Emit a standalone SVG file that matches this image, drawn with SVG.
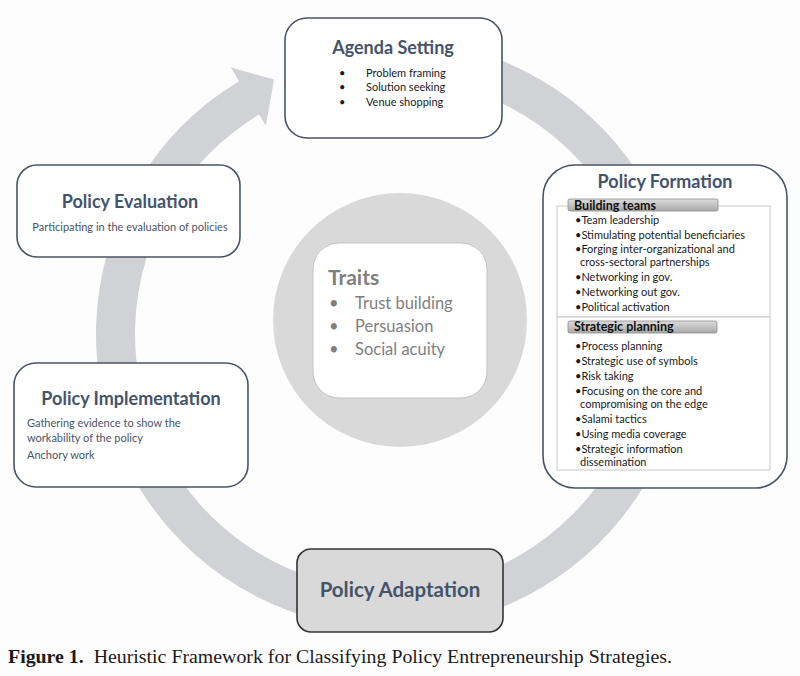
<svg xmlns="http://www.w3.org/2000/svg" width="800" height="676" viewBox="0 0 800 676">
<defs>
<style>
.box{fill:#fff;stroke:#4a5366;stroke-width:1.6}
.ttl{font-family:Lato,"Open Sans",sans-serif;font-weight:bold;fill:#44546a;text-anchor:middle}
.sub{font-family:Lato,"Open Sans",sans-serif;font-size:11px;fill:#4a5568}
.itm{font-family:Lato,"Open Sans",sans-serif;font-size:11px;fill:#1a1a1a}
.hdr{font-family:Lato,"Open Sans",sans-serif;font-size:12.5px;font-weight:bold;fill:#111}
.bar{fill:url(#barg);stroke:#8c8c8c;stroke-width:0.8}
.pan{fill:#fff;stroke:#c8c8c8;stroke-width:1}
.tr{font-family:Lato,"Open Sans",sans-serif;fill:#7f7f7f}
</style>
<linearGradient id="barg" x1="0" y1="0" x2="0" y2="1">
<stop offset="0" stop-color="#dcdcdc"/>
<stop offset="1" stop-color="#a9a9a9"/>
</linearGradient>
</defs>
<rect width="800" height="676" fill="#fdfdfd"/>
<g id="connectors">
<path d="M314.65,49.05 A295,295 0 1,1 239.07,81.13 L230.83,67.41 L274.0,79.6 L265.85,125.70 L259.16,114.56 A256,256 0 1,0 324.74,86.72 Z" fill="#d1d2d6"/>
</g>
<g id="traits">
<circle cx="400" cy="320" r="127" fill="#d9d9d9"/>
<rect x="313" y="243" width="174" height="155" rx="26" fill="#fff" stroke="#c4c4c4" stroke-width="1"/>
<text class="tr" x="328" y="285" font-size="21" font-weight="bold">Traits</text>
<g class="tr" font-size="16.5">
<text x="329" y="309">•</text><text x="355" y="309">Trust building</text>
<text x="329" y="332">•</text><text x="355" y="332">Persuasion</text>
<text x="329" y="355">•</text><text x="355" y="355">Social acuity</text>
</g>
</g>
<g id="agenda-setting">
<rect class="box" x="285" y="18" width="217" height="120" rx="22"/>
<text class="ttl" x="393" y="54" font-size="18">Agenda Setting</text>
<g class="itm" font-size="11.5">
<text x="339" y="77">•</text><text x="366" y="77">Problem framing</text>
<text x="339" y="91">•</text><text x="366" y="91">Solution seeking</text>
<text x="339" y="106">•</text><text x="366" y="106">Venue shopping</text>
</g>
</g>
<g id="policy-formation">
<rect class="box" x="543" y="165" width="244" height="323" rx="32"/>
<text class="ttl" x="665" y="188" font-size="18">Policy Formation</text>
<rect class="pan" x="557" y="206" width="213" height="111"/>
<rect class="pan" x="557" y="317" width="213" height="153"/>
<rect class="bar" x="568" y="199" width="150" height="12" rx="2"/>
<text class="hdr" x="574" y="209.5">Building teams</text>
<g class="itm">
<text x="575" y="224">•Team leadership</text>
<text x="575" y="238.5">•Stimulating potential beneficiaries</text>
<text x="575" y="253">•Forging inter-organizational and</text>
<text x="580" y="266">cross-sectoral partnerships</text>
<text x="575" y="281">•Networking in gov.</text>
<text x="575" y="296">•Networking out gov.</text>
<text x="575" y="311">•Political activation</text>
</g>
<rect class="bar" x="568" y="321" width="149" height="12" rx="2"/>
<text class="hdr" x="574" y="331">Strategic planning</text>
<g class="itm">
<text x="575" y="350">•Process planning</text>
<text x="575" y="365">•Strategic use of symbols</text>
<text x="575" y="380">•Risk taking</text>
<text x="575" y="395">•Focusing on the core and</text>
<text x="580" y="408">compromising on the edge</text>
<text x="575" y="423">•Salami tactics</text>
<text x="575" y="438">•Using media coverage</text>
<text x="575" y="453">•Strategic information</text>
<text x="580" y="466">dissemination</text>
</g>
</g>
<g id="policy-evaluation">
<rect class="box" x="17" y="165" width="223" height="92" rx="20"/>
<text class="ttl" x="130" y="208" font-size="18">Policy Evaluation</text>
<text class="sub" x="130" y="231" text-anchor="middle">Participating in the evaluation of policies</text>
</g>
<g id="policy-implementation">
<rect class="box" x="14" y="363" width="234" height="124" rx="22"/>
<text class="ttl" x="131" y="405" font-size="18">Policy Implementation</text>
<text class="sub" x="27" y="427">Gathering evidence to show the</text>
<text class="sub" x="27" y="442">workability of the policy</text>
<text class="sub" x="27" y="459">Anchory work</text>
</g>
<g id="policy-adaptation">
<rect x="297" y="549" width="206" height="83" rx="14" fill="#d9d9d9" stroke="#333" stroke-width="1.6"/>
<text class="ttl" x="400" y="597" font-size="20.5">Policy Adaptation</text>
</g>
<text x="8" y="663" font-family="'Liberation Serif',serif" font-size="18.5" fill="#1a1a1a" textLength="664" lengthAdjust="spacingAndGlyphs"><tspan font-weight="bold">Figure 1.</tspan><tspan xml:space="preserve">  Heuristic Framework for Classifying Policy Entrepreneurship Strategies.</tspan></text>
</svg>
